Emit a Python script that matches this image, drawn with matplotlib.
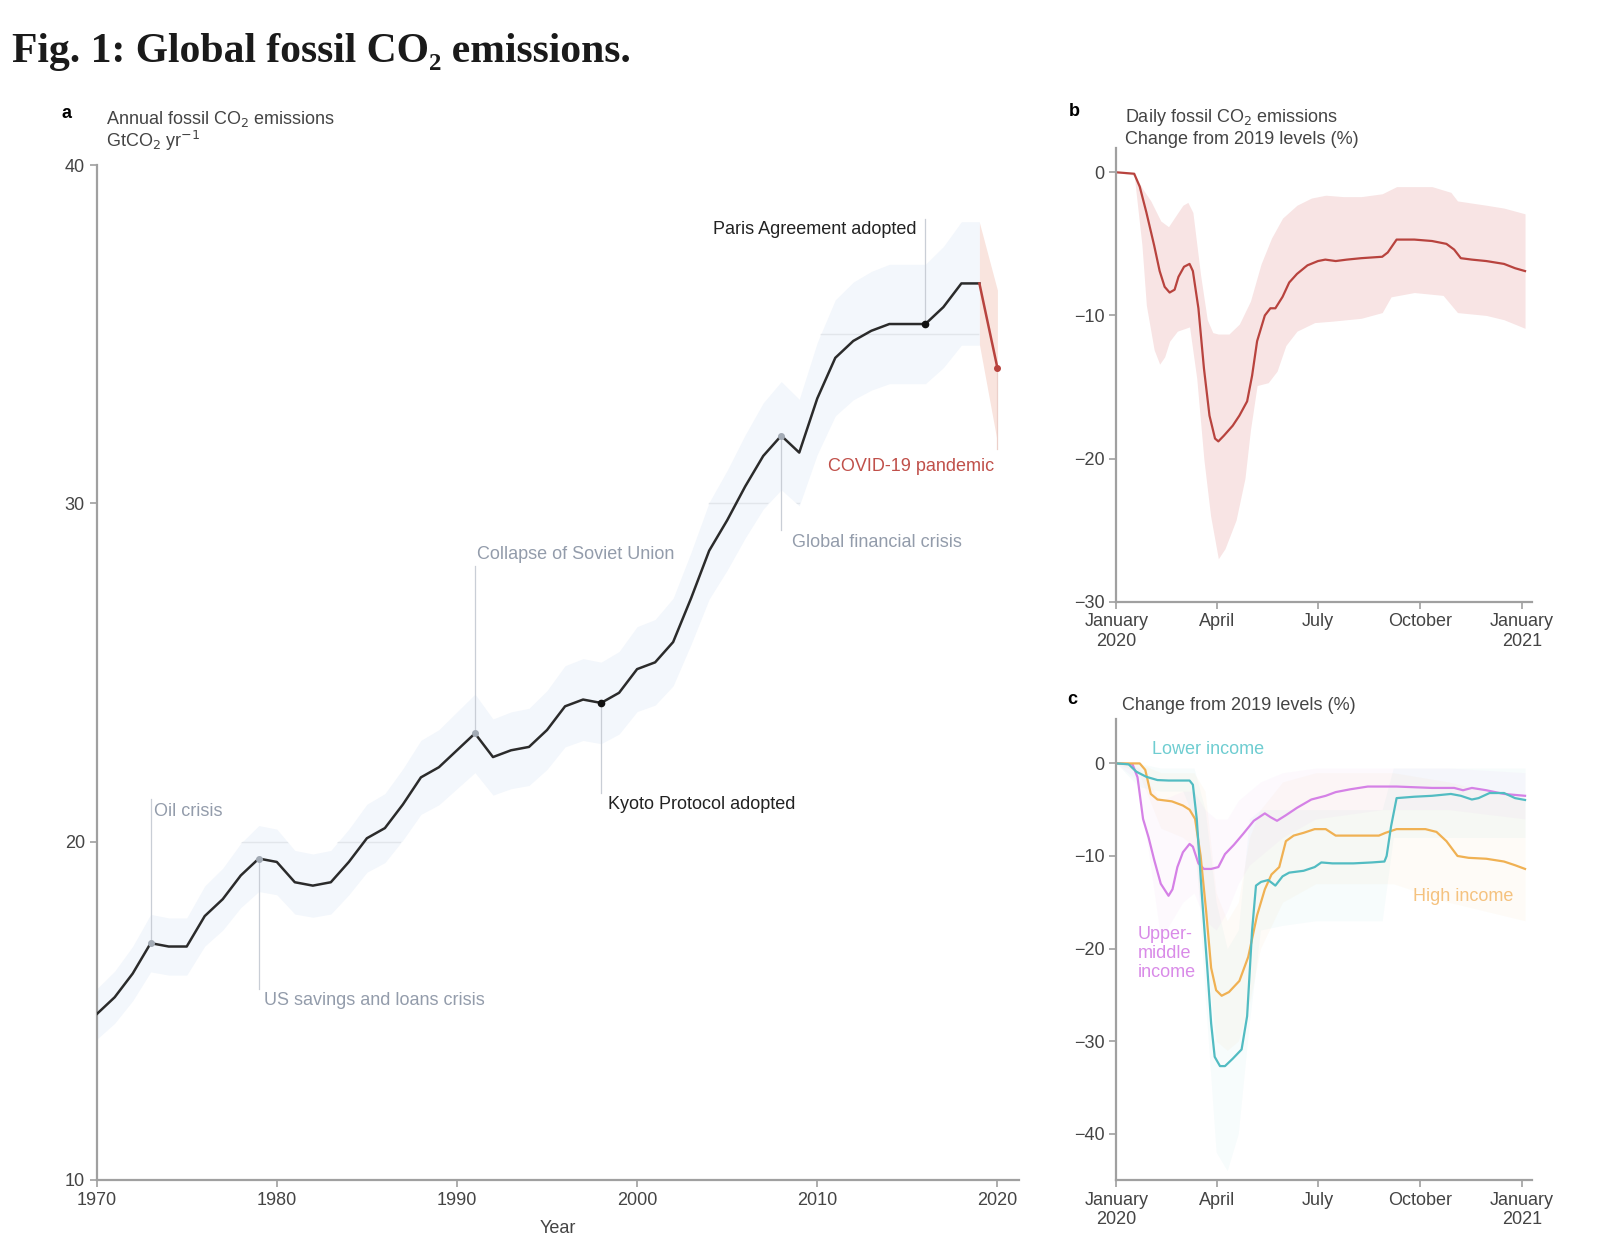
import matplotlib
matplotlib.use('Agg')
import matplotlib.pyplot as plt
import numpy as np
import pandas as pd

plt.rcParams['font.family'] = ['Liberation Sans', 'DejaVu Sans']
plt.rcParams['font.size'] = 13

# ---- panel a: annual fossil CO2 emissions (GtCO2/yr) ----
years = list(range(1970, 2020))
emissions = [14.9, 15.4, 16.1, 17.0, 16.9, 16.9, 17.8, 18.3, 19.0, 19.5,
             19.4, 18.8, 18.7, 18.8, 19.4, 20.1, 20.4, 21.1, 21.9, 22.2,
             22.7, 23.2, 22.5, 22.7, 22.8, 23.3, 24.0, 24.2, 24.1, 24.4,
             25.1, 25.3, 25.9, 27.2, 28.6, 29.5, 30.5, 31.4, 32.0, 31.5,
             33.1, 34.3, 34.8, 35.1, 35.3, 35.3, 35.3, 35.8, 36.5, 36.5]
rel_uncertainty = 0.05
covid_years = [2019, 2020]
covid_emis = [36.5, 34.0]
covid_low = [34.7, 31.8]
covid_high = [38.3, 36.3]

# events: year, label, text x, text y, end of link line, alignment
events_gray = [(1973, 'Oil crisis', 1973.2, 20.9, 21.25, 'left'),
               (1979, 'US savings and loans crisis', 1979.3, 15.3, 15.65, 'left'),
               (1991, 'Collapse of Soviet Union', 1991.1, 28.5, 28.15, 'left'),
               (2008, 'Global financial crisis', 2008.6, 28.85, 29.2, 'left')]
events_black = [(1998, 'Kyoto Protocol adopted', 1998.4, 21.1, 21.45, 'left'),
                (2016, 'Paris Agreement adopted', 2015.5, 38.1, 38.4, 'right')]

# ---- panel b: daily change from 2019 (%) ----
b_line = [(0, 0), (16, -0.1), (21, -1.0), (27, -2.8), (34, -5.1), (39, -6.9),
          (43.5, -8.0), (48, -8.4), (52.5, -8.2), (56, -7.3), (61, -6.6),
          (66, -6.4), (69, -6.9), (74, -9.5), (79, -13.7), (84, -17.0),
          (89, -18.6), (92, -18.8), (97, -18.4), (105, -17.7), (111, -17.0),
          (118, -16.0), (122.5, -14.2), (127, -11.8), (134, -10.0), (139, -9.5),
          (143.5, -9.5), (150, -8.7), (156, -7.7), (163, -7.1), (172.5, -6.5),
          (182, -6.2), (188.6, -6.1), (198, -6.2), (208, -6.1), (221, -6.0),
          (240, -5.9), (245, -5.6), (253, -4.7), (269, -4.7), (285, -4.8),
          (298, -5.0), (305, -5.4), (311, -6.0), (321, -6.1), (334, -6.2),
          (350, -6.4), (360, -6.7), (369, -6.9)]
b_upper = [(0, 0), (16, -0.15), (24, -1.2), (31, -2.0), (40, -3.4), (47, -3.8),
           (53, -3.1), (60, -2.3), (64.5, -2.1), (69, -2.8), (76, -7.2),
           (82, -10.3), (87, -11.2), (92, -11.3), (101.6, -11.3), (111, -10.6),
           (121, -9.0), (130.6, -6.4), (140, -4.6), (150, -3.2), (163, -2.3),
           (176, -1.8), (189, -1.6), (205, -1.7), (221, -1.7), (240, -1.5),
           (253, -1.0), (285, -1.0), (302, -1.4), (308, -2.0), (334, -2.3),
           (350, -2.5), (369, -2.9)]
b_lower = [(0, 0), (16, -0.2), (23, -5.1), (27, -9.3), (34, -12.4), (39, -13.4),
           (43.5, -12.9), (48, -11.8), (55, -11.1), (66, -10.8), (72.5, -14.4),
           (79, -20.1), (85, -24.0), (92, -27.0), (98, -26.3), (108, -24.3),
           (116, -21.4), (121, -18.0), (127, -14.9), (137, -14.7), (145, -13.9),
           (153, -12.1), (163, -11.1), (179, -10.5), (195, -10.4), (221, -10.2),
           (240, -9.8), (248, -8.7), (269, -8.4), (295, -8.6), (308, -9.8),
           (334, -10.0), (350, -10.3), (369, -10.9)]

# ---- panel c: change by income group (%) ----
lower_income = [(0, 0), (11, -0.1), (18, -0.9), (27, -1.45), (37, -1.8), (47, -1.85),
                (66, -1.85), (69, -2.3), (72.5, -6.0), (77, -14.0), (82, -22.1),
                (85.5, -28.1), (88.7, -31.7), (93.5, -32.7), (98, -32.7), (105, -31.9),
                (113, -30.9), (118, -27.3), (122.5, -18.0), (126, -13.2), (130.6, -12.8),
                (137, -12.6), (143.5, -13.2), (150, -12.2), (156, -11.8), (169, -11.6),
                (179, -11.2), (185, -10.7), (195, -10.8), (214, -10.8), (230.6, -10.7),
                (242, -10.6), (244, -10.0), (248, -6.8), (253, -3.75), (269, -3.6),
                (285, -3.5), (302, -3.3), (311, -3.5), (321, -3.9), (327, -3.75),
                (337, -3.2), (350, -3.2), (360, -3.75), (369, -3.95)]
high_income = [(0, 0), (21, 0), (26, -0.7), (31, -3.3), (37, -3.9), (50, -4.1),
               (60, -4.55), (66, -5.0), (71, -6.0), (76, -10.0), (81, -16.0),
               (85.5, -22.1), (90, -24.5), (95, -25.1), (101.6, -24.7), (111, -23.5),
               (119, -20.9), (127, -16.4), (134, -13.6), (140, -12.0), (147, -11.2),
               (153, -8.4), (160, -7.8), (169, -7.5), (179, -7.1), (189, -7.1),
               (198, -7.8), (214, -7.8), (237, -7.8), (243, -7.5), (253, -7.1),
               (279, -7.1), (289, -7.4), (298, -8.4), (308, -10.0), (318, -10.2),
               (334, -10.3), (350, -10.6), (360, -11.0), (369, -11.4)]
upper_middle = [(0, 0), (14.5, -0.1), (19, -1.5), (24, -6.0), (29, -8.0), (34, -10.4),
                (40, -13.0), (47, -14.3), (50.6, -13.6), (55, -11.2), (60, -9.6),
                (66, -8.7), (69, -9.0), (74, -10.8), (79, -11.4), (85.5, -11.4),
                (92, -11.2), (98, -9.8), (106, -8.8), (114.5, -7.6), (124, -6.2),
                (134, -5.4), (139, -5.8), (145, -6.2), (153, -5.6), (163, -4.8),
                (176, -3.9), (189, -3.5), (198, -3.1), (211, -2.8), (227, -2.5),
                (253, -2.5), (285, -2.65), (305, -2.65), (313, -2.9), (321, -2.65),
                (334, -2.9), (350, -3.3), (369, -3.5)]

c_band_days = [0, 20, 40, 60, 70, 80, 90, 100, 110, 120, 130, 150, 180, 240, 250, 300, 369]
lower_band_hi = [0, 0, -0.5, -0.5, -0.5, -5, -15, -20, -18, -6, -5, -5, -5, -5, -0.5, -0.5, -0.5]
lower_band_lo = [0, -2.5, -3, -3, -6, -25, -42, -44, -40, -28, -18, -17.5, -17, -17, -8, -8, -8]
high_band_hi = [0, 0, -1, -1, -1, -3, -14, -17, -15, -8, -5, -2, -1, -1, -1, -2, -4]
high_band_lo = [0, -1, -7, -8, -9, -20, -30, -31, -30, -26, -20, -15, -13, -13, -13, -15, -17]
umid_band_hi = [0, -0.5, -4, -3, -3, -5, -6, -6, -4, -3, -2, -1, -0.5, -0.5, -0.5, -0.5, -1]
umid_band_lo = [0, -2, -19, -15, -14, -17, -18, -16, -13, -11, -10, -8, -6, -5, -5, -5, -6]

month_ticks = ['2020-01-01', '2020-04-01', '2020-07-01', '2020-10-01', '2021-01-01']
month_labels = ['January\n2020', 'April', 'July', 'October', 'January\n2021']

start = pd.Timestamp('2020-01-01')


def to_dates(days):
    return start + pd.to_timedelta(np.asarray(days, dtype=float), unit='D')


def unzip(pairs):
    d, v = zip(*pairs)
    return to_dates(d), np.array(v)


text_col = '#444444'
spine_col = '#a0a0a0'
gray_txt = '#939cab'
link_col = '#c9ced6'
red = '#b8433e'


def style(ax):
    for s in ['top', 'right']:
        ax.spines[s].set_visible(False)
    for s in ['left', 'bottom']:
        ax.spines[s].set_color(spine_col)
        ax.spines[s].set_linewidth(1.6)
    ax.tick_params(direction='out', length=5, width=1.2, color=spine_col,
                   labelcolor=text_col, labelsize=13)


fig = plt.figure(figsize=(16, 12.53), dpi=100)

fig.text(12 / 1600, 1 - 52 / 1253, 'Fig. 1: Global fossil CO₂ emissions.',
         fontsize=30, fontweight='bold', family=['Liberation Serif', 'DejaVu Serif'],
         va='center', color='#1a1a1a')

# ---------------- panel a ----------------
ax = fig.add_axes([0.0604, 0.0583, 0.5765, 0.8100])
style(ax)
yr = np.array(years)
em = np.array(emissions)
band = ax.fill_between(yr, em * (1 - rel_uncertainty), em * (1 + rel_uncertainty),
                       color='#f3f7fc', lw=0, zorder=1)
ax.fill_between(covid_years, covid_low, covid_high, color='#f9e4de', lw=0, zorder=1)
for g in [20, 30, 35]:
    gl = ax.axhline(g, color='#e2e6eb', lw=1.0, zorder=1.5)
    gl.set_clip_path(band.get_paths()[0], ax.transData)
ax.plot(yr, em, color='#2b2b2b', lw=1.8, zorder=3)
ax.plot(covid_years, covid_emis, color=red, lw=1.8, zorder=3)

for y0, lab, tx, ty, ly, ha in events_gray:
    v = em[years.index(y0)]
    ax.plot([y0, y0], [v, ly], color=link_col, lw=0.9, zorder=2)
    ax.plot(y0, v, 'o', ms=4, color='#a3abb5', zorder=4)
    ax.text(tx, ty, lab, color=gray_txt, fontsize=13, ha=ha, va='center')
for y0, lab, tx, ty, ly, ha in events_black:
    v = em[years.index(y0)]
    ax.plot([y0, y0], [v, ly], color=link_col, lw=0.9, zorder=2)
    ax.plot(y0, v, 'o', ms=4.5, color='#111111', zorder=4)
    ax.text(tx, ty, lab, color='#222222', fontsize=13, ha=ha, va='center')
ax.plot([2020, 2020], [covid_emis[1], 31.6], color='#ecd0ca', lw=0.9, zorder=2)
ax.plot(2020, covid_emis[1], 'o', ms=4, color=red, zorder=4)
ax.text(2019.8, 31.1, 'COVID-19 pandemic', color='#c0504a', fontsize=13,
        ha='right', va='center')

ax.set_xlim(1970, 2021.2)
ax.set_ylim(10, 40)
ax.set_xticks(range(1970, 2021, 10))
ax.set_yticks([10, 20, 30, 40])
ax.set_xlabel('Year', fontsize=13, color=text_col, labelpad=8)

fig.text(66 / 1600, 1 - 114 / 1253, 'a', fontsize=13, fontweight='bold', ha='center', va='center')
fig.text(106 / 1600, 1 - 119 / 1253, 'Annual fossil CO$_2$ emissions', fontsize=13,
         color=text_col, va='center')
fig.text(106 / 1600, 1 - 141 / 1253, 'GtCO$_2$ yr$^{-1}$', fontsize=13,
         color=text_col, va='center')

# ---------------- panel b ----------------
axb = fig.add_axes([0.6978, 0.5198, 0.2595, 0.3621])
style(axb)
du, vu = unzip(b_upper)
dl, vl = unzip(b_lower)
# put both bounds on a common date grid for fill_between
grid = np.union1d([p[0] for p in b_upper], [p[0] for p in b_lower])
up_i = np.interp(grid, [p[0] for p in b_upper], vu)
lo_i = np.interp(grid, [p[0] for p in b_lower], vl)
axb.fill_between(to_dates(grid), lo_i, up_i, color='#f8e4e4', lw=0)
d, v = unzip(b_line)
axb.plot(d, v, color=red, lw=1.6)
axb.set_ylim(-30, 1.7)
axb.set_yticks([-30, -20, -10, 0])
axb.set_xlim(start, pd.Timestamp('2021-01-10'))
axb.set_xticks(pd.to_datetime(month_ticks))
axb.set_xticklabels(month_labels)

fig.text(1074 / 1600, 1 - 112 / 1253, 'b', fontsize=13, fontweight='bold', ha='center', va='center')
fig.text(1125 / 1600, 1 - 118 / 1253, 'Daily fossil CO$_2$ emissions', fontsize=13,
         color=text_col, va='center')
fig.text(1125 / 1600, 1 - 140 / 1253, 'Change from 2019 levels (%)', fontsize=13,
         color=text_col, va='center')

# ---------------- panel c ----------------
axc = fig.add_axes([0.6978, 0.0583, 0.2595, 0.3679])
style(axc)
teal, orange, violet = '#52bcc2', '#f0b153', '#d581e6'
bd = to_dates(c_band_days)
axc.fill_between(bd, lower_band_lo, lower_band_hi, color=teal, alpha=0.045, lw=0)
axc.fill_between(bd, high_band_lo, high_band_hi, color=orange, alpha=0.045, lw=0)
axc.fill_between(bd, umid_band_lo, umid_band_hi, color=violet, alpha=0.045, lw=0)
for series, col in [(upper_middle, violet), (high_income, orange), (lower_income, teal)]:
    d, v = unzip(series)
    axc.plot(d, v, color=col, lw=1.6)
axc.text(to_dates([32])[0], 1.5, 'Lower income', color='#6fcdd1', fontsize=13, va='center')
axc.text(to_dates([268])[0], -14.4, 'High income', color='#f5c27f', fontsize=13, va='center')
axc.text(to_dates([19])[0], -17.6, 'Upper-\nmiddle\nincome', color='#d98be8', fontsize=13,
         va='top', linespacing=1.15)
axc.set_ylim(-45, 4.8)
axc.set_yticks([-40, -30, -20, -10, 0])
axc.set_xlim(start, pd.Timestamp('2021-01-10'))
axc.set_xticks(pd.to_datetime(month_ticks))
axc.set_xticklabels(month_labels)

fig.text(1072 / 1600, 1 - 699 / 1253, 'c', fontsize=13, fontweight='bold', ha='center', va='center')
fig.text(1122 / 1600, 1 - 705 / 1253, 'Change from 2019 levels (%)', fontsize=13,
         color=text_col, va='center')

fig.savefig('out.png', dpi=100)
